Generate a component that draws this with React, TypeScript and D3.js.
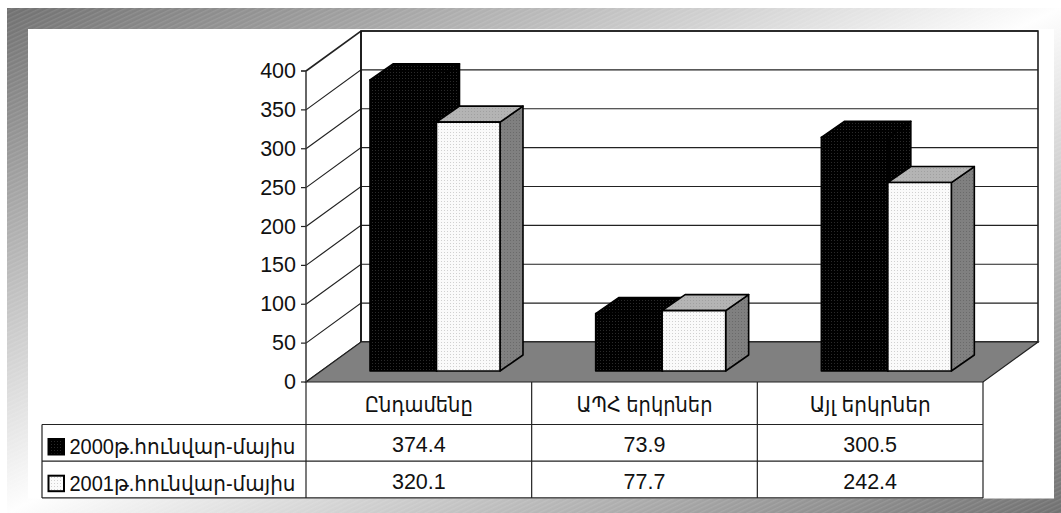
import React from "react";
import * as d3 from "d3";

const categories = ["Ընդամենը", "ԱՊՀ երկրներ", "Այլ երկրներ"];
const seriesNames = ["2000թ.հունվար-մայիս", "2001թ.հունվար-մայիս"];
const series2000 = [374.4, 73.9, 300.5];
const series2001 = [320.1, 77.7, 242.4];
const yTicks = [0, 50, 100, 150, 200, 250, 300, 350, 400];

const W = 1061, H = 513;
const FRONT_X0 = 306, FRONT_X1 = 983, FRONT_Y0 = 382, FRONT_Y1 = 71;
const DEPTH_X = 55, DEPTH_Y = -40;
const FONT = "'Liberation Sans', Arial, 'DejaVu Sans', sans-serif";
const FS = 21.5;

const xCat = d3.scaleBand<string>().domain(categories).range([FRONT_X0, FRONT_X1]);
const y = d3.scaleLinear().domain([0, 400]).range([FRONT_Y0, FRONT_Y1]);
const xInner = d3.scaleLinear().domain([0, 1]).range([0, 66.5]);
const innerWidth = (s: number) => (s === 0 ? 66.5 : 63.5);
const barH = (v: number) => y(0) - y(v);

const lineGen = d3.line();
const poly = (pts: [number, number][]) => lineGen(pts) + "Z";

function Bar({ x, w, v, front, side, top, base = 371 }: any) {
  const dx = 23, dy = -16;
  const t = base - barH(v);
  return (
    <g stroke="#000" strokeWidth={1.6} strokeLinejoin="round">
      <path d={poly([[x + w, base], [x + w + dx, base + dy], [x + w + dx, t + dy], [x + w, t]])} fill={side} />
      <path d={poly([[x, t], [x + dx, t + dy], [x + w + dx, t + dy], [x + w, t]])} fill={top} />
      <path d={poly([[x, base], [x, t], [x + w, t], [x + w, base]])} fill={front} />
    </g>
  );
}

export default function App() {
  const rows = [series2000, series2001];
  const tableTop = 424.5, rowH = 36.7;
  const tableLeft = 42;
  const keyFill = ["url(#dotBlack)", "url(#dotWhite)"];
  const catLabelWidth = [108, 136, 121];
  return (
    <svg width={W} height={H} viewBox={`0 0 ${W} ${H}`} style={{ position: "absolute", left: 0, top: 0, background: "#fff" }} fontFamily={FONT} fontSize={FS} fill="#111">
      <defs>
        <linearGradient id="frameGrad" x1="0" y1="0" x2="1" y2="1">
          <stop offset="0" stopColor="#707070" />
          <stop offset="0.5" stopColor="#fefefe" />
          <stop offset="1" stopColor="#707070" />
        </linearGradient>
        <pattern id="stripes" width="7" height="4" patternUnits="userSpaceOnUse" patternTransform="rotate(-25)">
          <rect width="7" height="1.4" fill="#fff" opacity={0.1} />
        </pattern>
        <pattern id="dotBlack" width="3" height="3" patternUnits="userSpaceOnUse">
          <rect width="3" height="3" fill="#000" />
          <rect width="1" height="1" fill="#2a2a2a" />
        </pattern>
        <pattern id="dotWhite" width="3" height="3" patternUnits="userSpaceOnUse">
          <rect width="3" height="3" fill="#fafafa" />
          <rect width="1" height="1" fill="#d0d0d0" />
        </pattern>
        <pattern id="dotGray" width="3" height="3" patternUnits="userSpaceOnUse">
          <rect width="3" height="3" fill="#808080" />
          <rect width="1" height="1" fill="#6a6a6a" />
        </pattern>
        <pattern id="dotTop" width="3" height="3" patternUnits="userSpaceOnUse">
          <rect width="3" height="3" fill="#b4b4b4" />
          <rect width="1" height="1" fill="#a0a0a0" />
        </pattern>
      </defs>

      {/* frame */}
      <rect x={7} y={8} width={W - 7} height={H - 8} fill="url(#frameGrad)" />
      <rect x={7} y={8} width={W - 7} height={H - 8} fill="url(#stripes)" />
      <rect x={28} y={29} width={1026} height={469.5} fill="#fff" />

      {/* walls */}
      <path d={poly([[FRONT_X0 + DEPTH_X, y(400) + DEPTH_Y], [FRONT_X1 + DEPTH_X, y(400) + DEPTH_Y], [FRONT_X1 + DEPTH_X, y(0) + DEPTH_Y], [FRONT_X0 + DEPTH_X, y(0) + DEPTH_Y]])} fill="#fff" stroke="#111" strokeWidth={1.5} />
      {yTicks.map((t) => (
        <g key={t} stroke="#222" strokeWidth={t === 400 ? 1.6 : 1.2} fill="none">
          <path d={lineGen([[FRONT_X0, y(t)], [FRONT_X0 + DEPTH_X, y(t) + DEPTH_Y], [FRONT_X1 + DEPTH_X, y(t) + DEPTH_Y]])!} />
          <path d={lineGen([[FRONT_X0 - 5, y(t)], [FRONT_X0, y(t)]])!} />
        </g>
      ))}
      <path d={lineGen([[FRONT_X0 + DEPTH_X, y(400) + DEPTH_Y], [FRONT_X0 + DEPTH_X, y(0) + DEPTH_Y]])!} stroke="#111" strokeWidth={1.5} />

      {/* floor */}
      <path d={poly([[FRONT_X0, y(0)], [FRONT_X1, y(0)], [FRONT_X1 + DEPTH_X, y(0) + DEPTH_Y], [FRONT_X0 + DEPTH_X, y(0) + DEPTH_Y]])} fill="#808080" stroke="#222" strokeWidth={1.2} />

      {/* bars */}
      {categories.map((c, i) => {
        const x0 = xCat(c)! + 64;
        return (
          <g key={c}>
            <Bar x={x0 + xInner(0)} w={innerWidth(0)} v={series2000[i]} front="url(#dotBlack)" side="url(#dotBlack)" top="url(#dotBlack)" />
            <Bar x={x0 + xInner(1)} w={innerWidth(1)} v={series2001[i]} front="url(#dotWhite)" side="url(#dotGray)" top="url(#dotTop)" />
          </g>
        );
      })}

      {/* axis */}
      <path d={lineGen([[FRONT_X0, y(400)], [FRONT_X0, y(0)]])!} stroke="#333" strokeWidth={1.5} />
      {yTicks.map((t) => (
        <text key={t} x={296} y={y(t) + 7} textAnchor="end">{t}</text>
      ))}

      {/* data table */}
      <g stroke="#222" strokeWidth={1.2} fill="none">
        {[FRONT_X0, ...categories.map((c) => xCat(c)! + xCat.bandwidth())].map((xv) => (
          <path key={xv} d={lineGen([[xv, y(0)], [xv, tableTop + 2 * rowH]])!} />
        ))}
        <path d={lineGen([[tableLeft, tableTop], [tableLeft, tableTop + 2 * rowH]])!} />
        {[0, 1, 2].map((r) => (
          <path key={r} d={lineGen([[tableLeft, tableTop + r * rowH], [FRONT_X1, tableTop + r * rowH]])!} />
        ))}
      </g>
      {categories.map((c, i) => (
        <text key={c} x={xCat(c)! + xCat.bandwidth() / 2} y={412} textAnchor="middle" textLength={catLabelWidth[i]} lengthAdjust="spacingAndGlyphs">{c}</text>
      ))}
      {seriesNames.map((s, r) => (
        <g key={s}>
          <rect x={48.5} y={tableTop + r * rowH + 14.5} width={15.5} height={15.5} fill={keyFill[r]} stroke="#000" strokeWidth={2} />
          <text x={69.5} y={tableTop + r * rowH + 29.5} textLength={226} lengthAdjust="spacingAndGlyphs">{s}</text>
          {rows[r].map((v, i) => (
            <text key={i} x={xCat(categories[i])! + xCat.bandwidth() / 2} y={tableTop + r * rowH + 27.5} textAnchor="middle">{v.toFixed(1)}</text>
          ))}
        </g>
      ))}
    </svg>
  );
}
